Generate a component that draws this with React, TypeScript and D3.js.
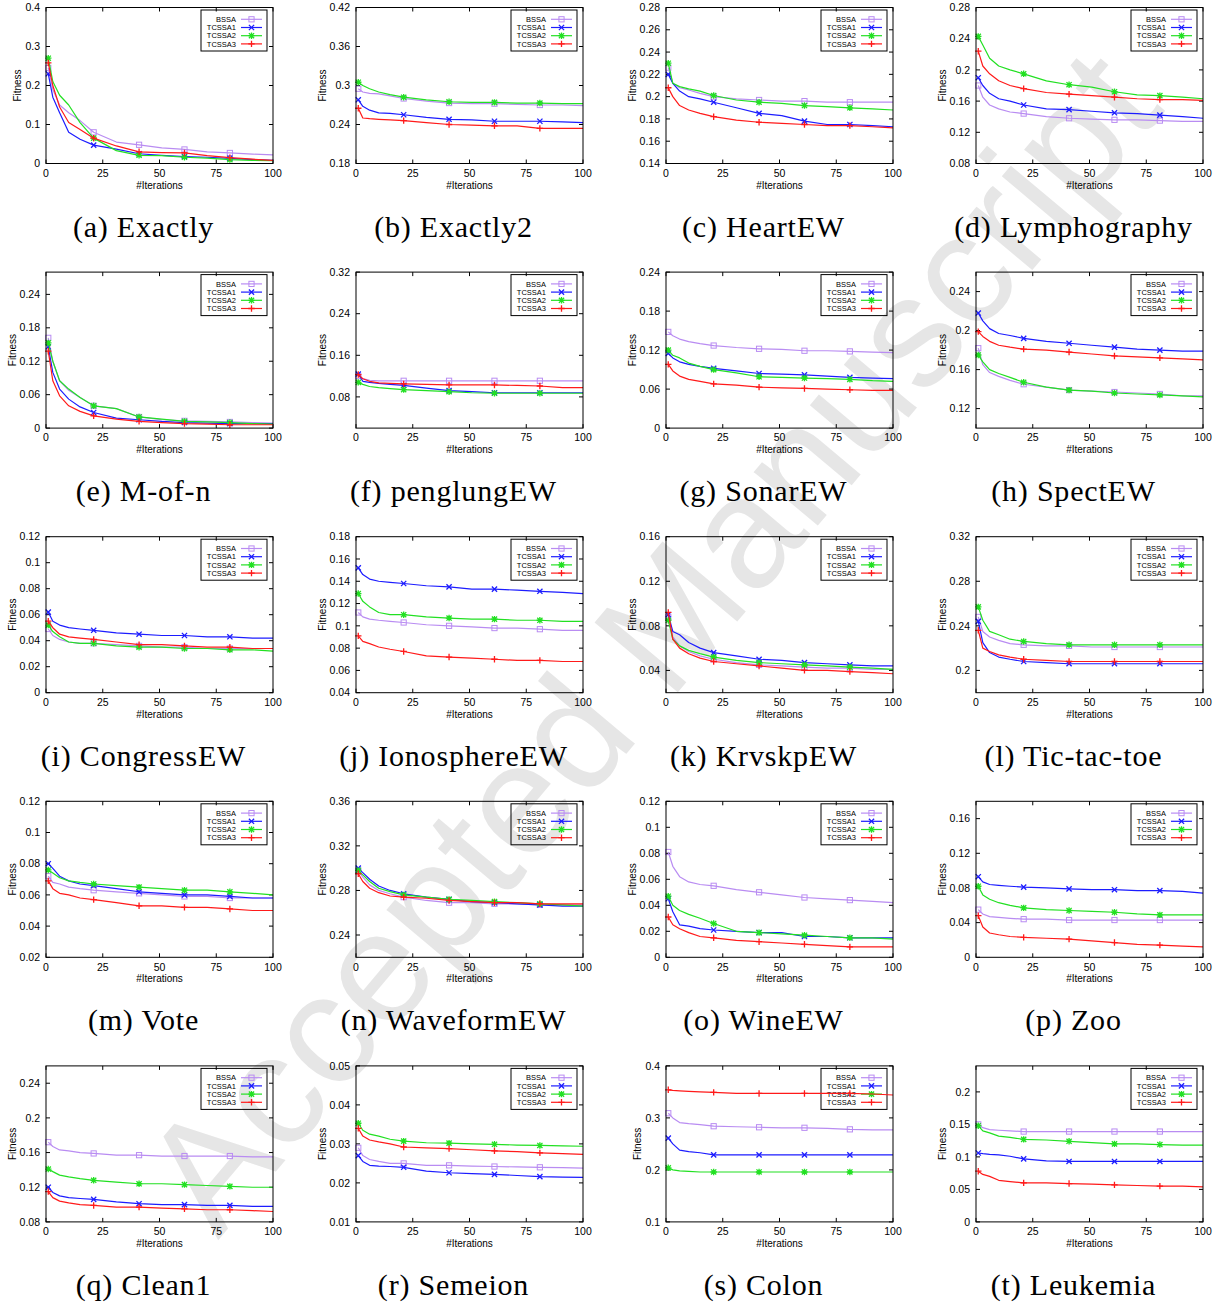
import React from "react";
import * as d3 from "d3";

const ITERS = [1, 3, 6, 10, 15, 21, 31, 41, 51, 61, 71, 81, 91, 100];
const MARKER_ITERS = [1, 21, 41, 61, 81];
const X_TICKS = [0, 25, 50, 75, 100];
const SERIES = ["BSSA", "TCSSA1", "TCSSA2", "TCSSA3"];
const COLORS = ["#b98cf2", "#1c1cff", "#22e022", "#ff1a1a"];

const CAPTIONS = [
  "(a) Exactly", "(b) Exactly2", "(c) HeartEW", "(d) Lymphography",
  "(e) M-of-n", "(f) penglungEW", "(g) SonarEW", "(h) SpectEW",
  "(i) CongressEW", "(j) IonosphereEW", "(k) KrvskpEW", "(l) Tic-tac-toe",
  "(m) Vote", "(n) WaveformEW", "(o) WineEW", "(p) Zoo",
  "(q) Clean1", "(r) Semeion", "(s) Colon", "(t) Leukemia",
];

const Y_DOMAINS = [
  [0, 0.4], [0.18, 0.42], [0.14, 0.28], [0.08, 0.28],
  [0, 0.28], [0.02, 0.32], [0, 0.24], [0.1, 0.26],
  [0, 0.12], [0.04, 0.18], [0.02, 0.16], [0.18, 0.32],
  [0.02, 0.12], [0.22, 0.36], [0, 0.12], [0, 0.18],
  [0.08, 0.26], [0.01, 0.05], [0.1, 0.4], [0, 0.24],
];

const Y_TICKS = [
  [0, 0.1, 0.2, 0.3, 0.4], [0.18, 0.24, 0.3, 0.36, 0.42],
  [0.14, 0.16, 0.18, 0.2, 0.22, 0.24, 0.26, 0.28], [0.08, 0.12, 0.16, 0.2, 0.24, 0.28],
  [0, 0.06, 0.12, 0.18, 0.24], [0.08, 0.16, 0.24, 0.32],
  [0, 0.06, 0.12, 0.18, 0.24], [0.12, 0.16, 0.2, 0.24],
  [0, 0.02, 0.04, 0.06, 0.08, 0.1, 0.12], [0.04, 0.06, 0.08, 0.1, 0.12, 0.14, 0.16, 0.18],
  [0.04, 0.08, 0.12, 0.16], [0.2, 0.24, 0.28, 0.32],
  [0.02, 0.04, 0.06, 0.08, 0.1, 0.12], [0.24, 0.28, 0.32, 0.36],
  [0, 0.02, 0.04, 0.06, 0.08, 0.1, 0.12], [0, 0.04, 0.08, 0.12, 0.16],
  [0.08, 0.12, 0.16, 0.2, 0.24], [0.01, 0.02, 0.03, 0.04, 0.05],
  [0.1, 0.2, 0.3, 0.4], [0, 0.05, 0.1, 0.15, 0.2],
];

// fitness values per dataset: rows are BSSA, TCSSA1, TCSSA2, TCSSA3
const exactly = [
  [0.245, 0.19, 0.15, 0.13, 0.11, 0.08, 0.055, 0.048, 0.04, 0.036, 0.03, 0.027, 0.024, 0.022],
  [0.23, 0.17, 0.13, 0.08, 0.062, 0.047, 0.037, 0.025, 0.021, 0.018, 0.016, 0.013, 0.01, 0.008],
  [0.27, 0.21, 0.175, 0.15, 0.105, 0.065, 0.033, 0.021, 0.02, 0.016, 0.014, 0.01, 0.008, 0.007],
  [0.258, 0.2, 0.145, 0.105, 0.087, 0.065, 0.045, 0.03, 0.028, 0.027, 0.02, 0.015, 0.011, 0.008],
];
const exactly2 = [
  [0.295, 0.29, 0.288, 0.287, 0.284, 0.28, 0.276, 0.273, 0.272, 0.272, 0.271, 0.27, 0.27, 0.269],
  [0.278, 0.268, 0.262, 0.258, 0.257, 0.255, 0.251, 0.248, 0.247, 0.245, 0.245, 0.245, 0.244, 0.243],
  [0.305, 0.3, 0.295, 0.29, 0.286, 0.282, 0.278, 0.275, 0.274, 0.274, 0.273, 0.273, 0.272, 0.272],
  [0.265, 0.25, 0.249, 0.248, 0.247, 0.246, 0.243, 0.24, 0.239, 0.238, 0.238, 0.234, 0.234, 0.234],
];
const heartEW = [
  [0.226, 0.212, 0.208, 0.206, 0.203, 0.2, 0.198, 0.197, 0.196, 0.196, 0.195, 0.195, 0.195, 0.195],
  [0.22, 0.212, 0.205, 0.2, 0.198, 0.195, 0.19, 0.185, 0.183, 0.178, 0.175, 0.175, 0.174, 0.173],
  [0.23, 0.212, 0.209, 0.207, 0.205, 0.201, 0.197, 0.195, 0.194, 0.192, 0.191, 0.19, 0.189, 0.188],
  [0.208, 0.2, 0.192, 0.188, 0.185, 0.182, 0.179, 0.177, 0.176, 0.175, 0.174, 0.174, 0.173, 0.172],
];
const lymphography = [
  [0.18, 0.165, 0.155, 0.15, 0.146, 0.144, 0.14, 0.138, 0.137, 0.136, 0.136, 0.135, 0.134, 0.134],
  [0.19, 0.18, 0.17, 0.163, 0.16, 0.155, 0.15, 0.149, 0.147, 0.145, 0.144, 0.142, 0.14, 0.138],
  [0.243, 0.232, 0.215, 0.205, 0.2, 0.195, 0.186, 0.181, 0.178, 0.172, 0.168, 0.167, 0.165, 0.163],
  [0.224, 0.205, 0.195, 0.186, 0.18, 0.176, 0.171, 0.169, 0.167, 0.165, 0.163, 0.162, 0.162, 0.161],
];
const mOfN = [
  [0.162, 0.12, 0.085, 0.068, 0.055, 0.04, 0.035, 0.02, 0.015, 0.013, 0.012, 0.011, 0.01, 0.009],
  [0.146, 0.1, 0.07, 0.052, 0.038, 0.028, 0.018, 0.015, 0.012, 0.01, 0.009, 0.008, 0.008, 0.008],
  [0.153, 0.12, 0.085, 0.07, 0.055, 0.04, 0.035, 0.02, 0.016, 0.012, 0.011, 0.01, 0.008, 0.007],
  [0.138, 0.085, 0.058, 0.04, 0.03, 0.022, 0.016, 0.012, 0.01, 0.008, 0.007, 0.006, 0.006, 0.006],
];
const penglungEW = [
  [0.12, 0.115, 0.112, 0.111, 0.111, 0.111, 0.111, 0.111, 0.111, 0.111, 0.111, 0.111, 0.111, 0.111],
  [0.124, 0.11, 0.108, 0.106, 0.104, 0.102, 0.097, 0.092, 0.09, 0.088, 0.088, 0.088, 0.088, 0.088],
  [0.108, 0.104, 0.1, 0.098, 0.096, 0.094, 0.092, 0.09, 0.088, 0.087, 0.087, 0.087, 0.087, 0.087],
  [0.123, 0.115, 0.11, 0.107, 0.106, 0.105, 0.104, 0.103, 0.103, 0.103, 0.102, 0.101, 0.098, 0.098],
];
const sonarEW = [
  [0.148, 0.142, 0.137, 0.133, 0.13, 0.127, 0.124, 0.122, 0.121, 0.119, 0.119, 0.118, 0.117, 0.116],
  [0.115, 0.108, 0.102, 0.098, 0.095, 0.092, 0.088, 0.084, 0.083, 0.082, 0.08, 0.078, 0.077, 0.076],
  [0.12, 0.112, 0.108, 0.1, 0.095, 0.09, 0.085, 0.079, 0.078, 0.077, 0.076, 0.075, 0.073, 0.072],
  [0.098, 0.088, 0.08, 0.075, 0.072, 0.068, 0.066, 0.063, 0.062, 0.061, 0.06, 0.059, 0.058, 0.058],
];
const spectEW = [
  [0.182, 0.165, 0.157, 0.153, 0.149, 0.145, 0.142, 0.139, 0.138, 0.137, 0.136, 0.135, 0.133, 0.133],
  [0.218, 0.21, 0.202, 0.197, 0.195, 0.192, 0.189, 0.187, 0.185, 0.183, 0.181, 0.18, 0.179, 0.179],
  [0.175, 0.168, 0.16, 0.156, 0.152, 0.147, 0.142, 0.139, 0.138, 0.136, 0.135, 0.134, 0.133, 0.132],
  [0.199, 0.194, 0.189, 0.185, 0.183, 0.181, 0.18, 0.178, 0.176, 0.174, 0.173, 0.172, 0.171, 0.17],
];
const congressEW = [
  [0.049, 0.044, 0.041, 0.039, 0.038, 0.038, 0.037, 0.036, 0.035, 0.035, 0.034, 0.034, 0.034, 0.034],
  [0.062, 0.055, 0.052, 0.05, 0.049, 0.048, 0.046, 0.045, 0.044, 0.044, 0.043, 0.043, 0.042, 0.042],
  [0.052, 0.047, 0.043, 0.039, 0.038, 0.038, 0.036, 0.035, 0.035, 0.034, 0.034, 0.033, 0.033, 0.032],
  [0.055, 0.05, 0.045, 0.043, 0.042, 0.041, 0.039, 0.037, 0.037, 0.036, 0.035, 0.035, 0.034, 0.034],
];
const ionosphereEW = [
  [0.112, 0.108, 0.106, 0.105, 0.104, 0.103, 0.101, 0.1, 0.099, 0.098, 0.098, 0.097, 0.096, 0.096],
  [0.152, 0.146, 0.142, 0.14, 0.139, 0.138, 0.136, 0.135, 0.133, 0.133, 0.132, 0.131, 0.13, 0.129],
  [0.129, 0.122, 0.117, 0.112, 0.11, 0.11, 0.108, 0.107, 0.106, 0.106, 0.105, 0.105, 0.104, 0.104],
  [0.091, 0.086, 0.084, 0.081, 0.079, 0.077, 0.073, 0.072, 0.071, 0.07, 0.069, 0.069, 0.068, 0.068],
];
const krvskpEW = [
  [0.088, 0.07, 0.062, 0.057, 0.053, 0.05, 0.047, 0.045, 0.044, 0.043, 0.042, 0.042, 0.041, 0.041],
  [0.09, 0.075, 0.072, 0.065, 0.06, 0.056, 0.053, 0.05, 0.049, 0.047, 0.046, 0.045, 0.044, 0.044],
  [0.085, 0.068, 0.062, 0.058, 0.055, 0.052, 0.049, 0.047, 0.046, 0.045, 0.044, 0.043, 0.042, 0.041],
  [0.092, 0.068, 0.06, 0.055, 0.051, 0.048, 0.046, 0.044, 0.042, 0.04, 0.04, 0.039, 0.038, 0.037],
];
const ticTacToe = [
  [0.248, 0.235, 0.23, 0.227, 0.224, 0.223, 0.222, 0.222, 0.221, 0.221, 0.221, 0.221, 0.221, 0.221],
  [0.244, 0.225, 0.216, 0.212, 0.21, 0.208, 0.207, 0.206, 0.206, 0.206, 0.206, 0.206, 0.206, 0.206],
  [0.257, 0.245, 0.235, 0.232, 0.228, 0.226, 0.224, 0.223, 0.223, 0.223, 0.223, 0.223, 0.223, 0.223],
  [0.236, 0.22, 0.217, 0.214, 0.212, 0.21, 0.209, 0.208, 0.208, 0.208, 0.208, 0.208, 0.208, 0.208],
];
const vote = [
  [0.072, 0.068, 0.067, 0.065, 0.064, 0.063, 0.062, 0.061, 0.06, 0.059, 0.059, 0.058, 0.058, 0.058],
  [0.08, 0.077, 0.072, 0.069, 0.067, 0.066, 0.064, 0.062, 0.061, 0.06, 0.06, 0.059, 0.058, 0.058],
  [0.076, 0.074, 0.071, 0.069, 0.068, 0.067, 0.066, 0.065, 0.064, 0.063, 0.063, 0.062, 0.061, 0.06],
  [0.069, 0.064, 0.061, 0.06, 0.058, 0.057, 0.055, 0.053, 0.053, 0.052, 0.052, 0.051, 0.05, 0.05],
];
const waveformEW = [
  [0.298, 0.292, 0.285, 0.28, 0.277, 0.274, 0.271, 0.269, 0.269, 0.268, 0.268, 0.267, 0.267, 0.267],
  [0.3, 0.296, 0.29, 0.284, 0.28, 0.277, 0.274, 0.272, 0.27, 0.269, 0.268, 0.267, 0.266, 0.266],
  [0.298, 0.294, 0.288, 0.282, 0.279, 0.276, 0.274, 0.272, 0.271, 0.27, 0.269, 0.268, 0.267, 0.266],
  [0.295, 0.288, 0.282, 0.278, 0.275, 0.274, 0.273, 0.271, 0.27, 0.269, 0.269, 0.268, 0.268, 0.268],
];
const wineEW = [
  [0.081, 0.07, 0.062, 0.058, 0.056, 0.055, 0.052, 0.05, 0.048, 0.046, 0.045, 0.044, 0.043, 0.042],
  [0.045, 0.035, 0.025, 0.024, 0.022, 0.021, 0.02, 0.019, 0.019, 0.016, 0.016, 0.015, 0.015, 0.015],
  [0.047, 0.04, 0.036, 0.033, 0.03, 0.026, 0.02, 0.019, 0.018, 0.017, 0.016, 0.015, 0.015, 0.014],
  [0.031, 0.025, 0.022, 0.019, 0.016, 0.015, 0.013, 0.012, 0.011, 0.01, 0.009, 0.008, 0.008, 0.008],
];
const zoo = [
  [0.055, 0.05, 0.047, 0.046, 0.045, 0.044, 0.044, 0.043, 0.043, 0.043, 0.043, 0.043, 0.043, 0.043],
  [0.093, 0.087, 0.084, 0.083, 0.082, 0.081, 0.08, 0.079, 0.078, 0.078, 0.077, 0.077, 0.076, 0.074],
  [0.082, 0.072, 0.067, 0.063, 0.06, 0.057, 0.055, 0.054, 0.053, 0.052, 0.05, 0.049, 0.049, 0.049],
  [0.048, 0.035, 0.028, 0.026, 0.024, 0.023, 0.022, 0.021, 0.019, 0.017, 0.015, 0.014, 0.013, 0.012],
];
const clean1 = [
  [0.172, 0.167, 0.163, 0.162, 0.16, 0.159, 0.157, 0.157, 0.156, 0.156, 0.156, 0.156, 0.155, 0.155],
  [0.12, 0.114, 0.11, 0.108, 0.107, 0.106, 0.103, 0.101, 0.1, 0.1, 0.099, 0.099, 0.098, 0.098],
  [0.141, 0.138, 0.134, 0.132, 0.13, 0.128, 0.126, 0.124, 0.124, 0.123, 0.122, 0.121, 0.12, 0.12],
  [0.115, 0.108, 0.104, 0.102, 0.1, 0.099, 0.097, 0.097, 0.096, 0.095, 0.094, 0.094, 0.093, 0.092],
];
const semeion = [
  [0.029, 0.027, 0.026, 0.0255, 0.025, 0.025, 0.0245, 0.0245, 0.0243, 0.0242, 0.0241, 0.024, 0.0239, 0.0238],
  [0.027, 0.0255, 0.0245, 0.0243, 0.0242, 0.024, 0.023, 0.0226, 0.0224, 0.0222, 0.0219, 0.0216, 0.0215, 0.0214],
  [0.0353, 0.0335, 0.0325, 0.032, 0.0312, 0.0307, 0.0303, 0.0302, 0.03, 0.0299, 0.0297, 0.0296, 0.0295, 0.0294],
  [0.034, 0.032, 0.031, 0.0305, 0.03, 0.0292, 0.029, 0.0288, 0.0285, 0.0282, 0.028, 0.0277, 0.0275, 0.0273],
];
const colon = [
  [0.309, 0.3, 0.291, 0.289, 0.287, 0.284, 0.283, 0.282, 0.281, 0.281, 0.28, 0.278, 0.277, 0.277],
  [0.261, 0.25, 0.238, 0.235, 0.233, 0.229, 0.229, 0.229, 0.229, 0.229, 0.229, 0.229, 0.229, 0.229],
  [0.204, 0.2, 0.198, 0.197, 0.196, 0.196, 0.196, 0.196, 0.196, 0.196, 0.196, 0.196, 0.196, 0.196],
  [0.354, 0.353, 0.352, 0.351, 0.35, 0.349, 0.347, 0.347, 0.347, 0.347, 0.347, 0.347, 0.346, 0.344],
];
const leukemia = [
  [0.15, 0.145, 0.142, 0.141, 0.14, 0.139, 0.139, 0.139, 0.139, 0.139, 0.139, 0.139, 0.139, 0.139],
  [0.106, 0.105, 0.104, 0.103, 0.101, 0.097, 0.094, 0.093, 0.093, 0.093, 0.093, 0.093, 0.093, 0.093],
  [0.148, 0.14, 0.137, 0.132, 0.13, 0.127, 0.126, 0.124, 0.122, 0.12, 0.12, 0.119, 0.118, 0.118],
  [0.078, 0.073, 0.07, 0.064, 0.062, 0.06, 0.06, 0.059, 0.058, 0.057, 0.056, 0.055, 0.055, 0.054],
];

const PANEL_DATA = [
  exactly, exactly2, heartEW, lymphography,
  mOfN, penglungEW, sonarEW, spectEW,
  congressEW, ionosphereEW, krvskpEW, ticTacToe,
  vote, waveformEW, wineEW, zoo,
  clean1, semeion, colon, leukemia,
];

const W = 1221;
const H = 1306;
const PLOT_W = 227;
const PLOT_H = 156;
const COL_STEP = 310;
const ROW_STEP = 264.6;
const TICK_FS = 10.5;
const sans = "'Liberation Sans', Arial, Helvetica, sans-serif";

// rough width of a numeric label in Liberation Sans
const labelWidth = (s: string) =>
  [...s].reduce((w, c) => w + (c === "." ? 0.278 : 0.556) * TICK_FS, 0);

function Marker({ kind, x, y, color }: { kind: number; x: number; y: number; color: string }) {
  const s = 2.6;
  if (kind === 0) {
    return <rect x={x - s} y={y - s} width={2 * s} height={2 * s} fill="none" stroke={color} strokeWidth={1} />;
  }
  const cross = `M${x - s},${y - s}L${x + s},${y + s}M${x - s},${y + s}L${x + s},${y - s}`;
  const plus = `M${x - s - 0.6},${y}L${x + s + 0.6},${y}M${x},${y - s - 0.6}L${x},${y + s + 0.6}`;
  if (kind === 1) return <path d={cross} stroke={color} strokeWidth={1.3} />;
  if (kind === 2) return <path d={cross + plus} stroke={color} strokeWidth={1.3} />;
  return <path d={plus} stroke={color} strokeWidth={1.3} />;
}

function Panel({ index }: { index: number }) {
  const col = index % 4;
  const row = Math.floor(index / 4);
  const left = 46 + col * COL_STEP;
  const top = 7.5 + row * ROW_STEP;
  const x = d3.scaleLinear().domain([0, 100]).range([left, left + PLOT_W]);
  const y = d3.scaleLinear().domain(Y_DOMAINS[index]).range([top + PLOT_H, top]);
  const data = PANEL_DATA[index];
  const line = d3
    .line<number>()
    .x((_, i) => x(ITERS[i]))
    .y((v) => y(v));
  const right = left + PLOT_W;
  const bottom = top + PLOT_H;
  const tick = 4;
  const maxLabel = d3.max(Y_TICKS[index], (t) => labelWidth(String(t))) ?? 0;

  // legend geometry
  const lgLeft = right - 72;
  const lgTop = top + 2.5;
  const lgRows = [11.8, 20, 28.2, 36.4];

  return (
    <g>
      {/* legend box (curves are drawn over it, like gnuplot) */}
      <rect x={lgLeft} y={lgTop} width={66} height={41} fill="none" stroke="#000" strokeWidth={1} />
      {SERIES.map((s, i) => (
        <g key={s}>
          <text
            x={right - 37}
            y={top + lgRows[i]}
            dy="0.35em"
            textAnchor="end"
            fontFamily={sans}
            fontSize={7.5}
            fill="#000"
          >
            {s}
          </text>
          <line x1={right - 32} x2={right - 11} y1={top + lgRows[i]} y2={top + lgRows[i]} stroke={COLORS[i]} strokeWidth={1.2} />
          <Marker kind={i} x={right - 21.5} y={top + lgRows[i]} color={COLORS[i]} />
        </g>
      ))}

      {/* ticks on all four sides, pointing inward */}
      {X_TICKS.map((t) => (
        <g key={"x" + t}>
          <line x1={x(t)} x2={x(t)} y1={bottom} y2={bottom - tick} stroke="#000" />
          <line x1={x(t)} x2={x(t)} y1={top} y2={top + tick} stroke="#000" />
          <text x={x(t)} y={bottom + 13.3} textAnchor="middle" fontFamily={sans} fontSize={TICK_FS} fill="#000">
            {t}
          </text>
        </g>
      ))}
      {Y_TICKS[index].map((t) => (
        <g key={"y" + t}>
          <line x1={left} x2={left + tick} y1={y(t)} y2={y(t)} stroke="#000" />
          <line x1={right} x2={right - tick} y1={y(t)} y2={y(t)} stroke="#000" />
          <text x={left - 6} y={y(t)} dy="0.35em" textAnchor="end" fontFamily={sans} fontSize={TICK_FS} fill="#000">
            {String(t)}
          </text>
        </g>
      ))}

      {/* curves */}
      {data.map((vals, si) => (
        <g key={si}>
          <path d={line(vals) ?? ""} fill="none" stroke={COLORS[si]} strokeWidth={1.2} strokeLinejoin="round" />
          {MARKER_ITERS.map((it) => {
            const k = ITERS.indexOf(it);
            return <Marker key={it} kind={si} x={x(it)} y={y(vals[k])} color={COLORS[si]} />;
          })}
        </g>
      ))}

      <rect x={left} y={top} width={PLOT_W} height={PLOT_H} fill="none" stroke="#000" strokeWidth={1} />

      {/* axis titles */}
      <text x={(left + right) / 2} y={bottom + 25} textAnchor="middle" fontFamily={sans} fontSize={10} fill="#000">
        #Iterations
      </text>
      <text
        transform={`translate(${left - 6 - maxLabel - 4},${(top + bottom) / 2}) rotate(-90)`}
        textAnchor="middle"
        fontFamily={sans}
        fontSize={10}
        fill="#000"
      >
        Fitness
      </text>

      {/* sub-figure caption */}
      <text
        x={col * COL_STEP + 143.5}
        y={top + 229}
        textAnchor="middle"
        fontFamily="'Liberation Serif', 'Times New Roman', serif"
        fontSize={30}
        letterSpacing={0.8}
        fill="#000"
      >
        {CAPTIONS[index]}
      </text>
    </g>
  );
}

export default function App() {
  return (
    <svg
      width={W}
      height={H}
      viewBox={`0 0 ${W} ${H}`}
      style={{ position: "absolute", left: 0, top: 0, background: "#fff" }}
    >
      <rect width={W} height={H} fill="#fff" />
      {/* watermark */}
      <text
        transform="translate(650,640) rotate(-50)"
        textAnchor="middle"
        dominantBaseline="central"
        fontFamily={sans}
        fontSize={158}
        fill="#e6e6e6"
      >
        Accepted Manuscript
      </text>
      {CAPTIONS.map((_, i) => (
        <Panel key={i} index={i} />
      ))}
    </svg>
  );
}
